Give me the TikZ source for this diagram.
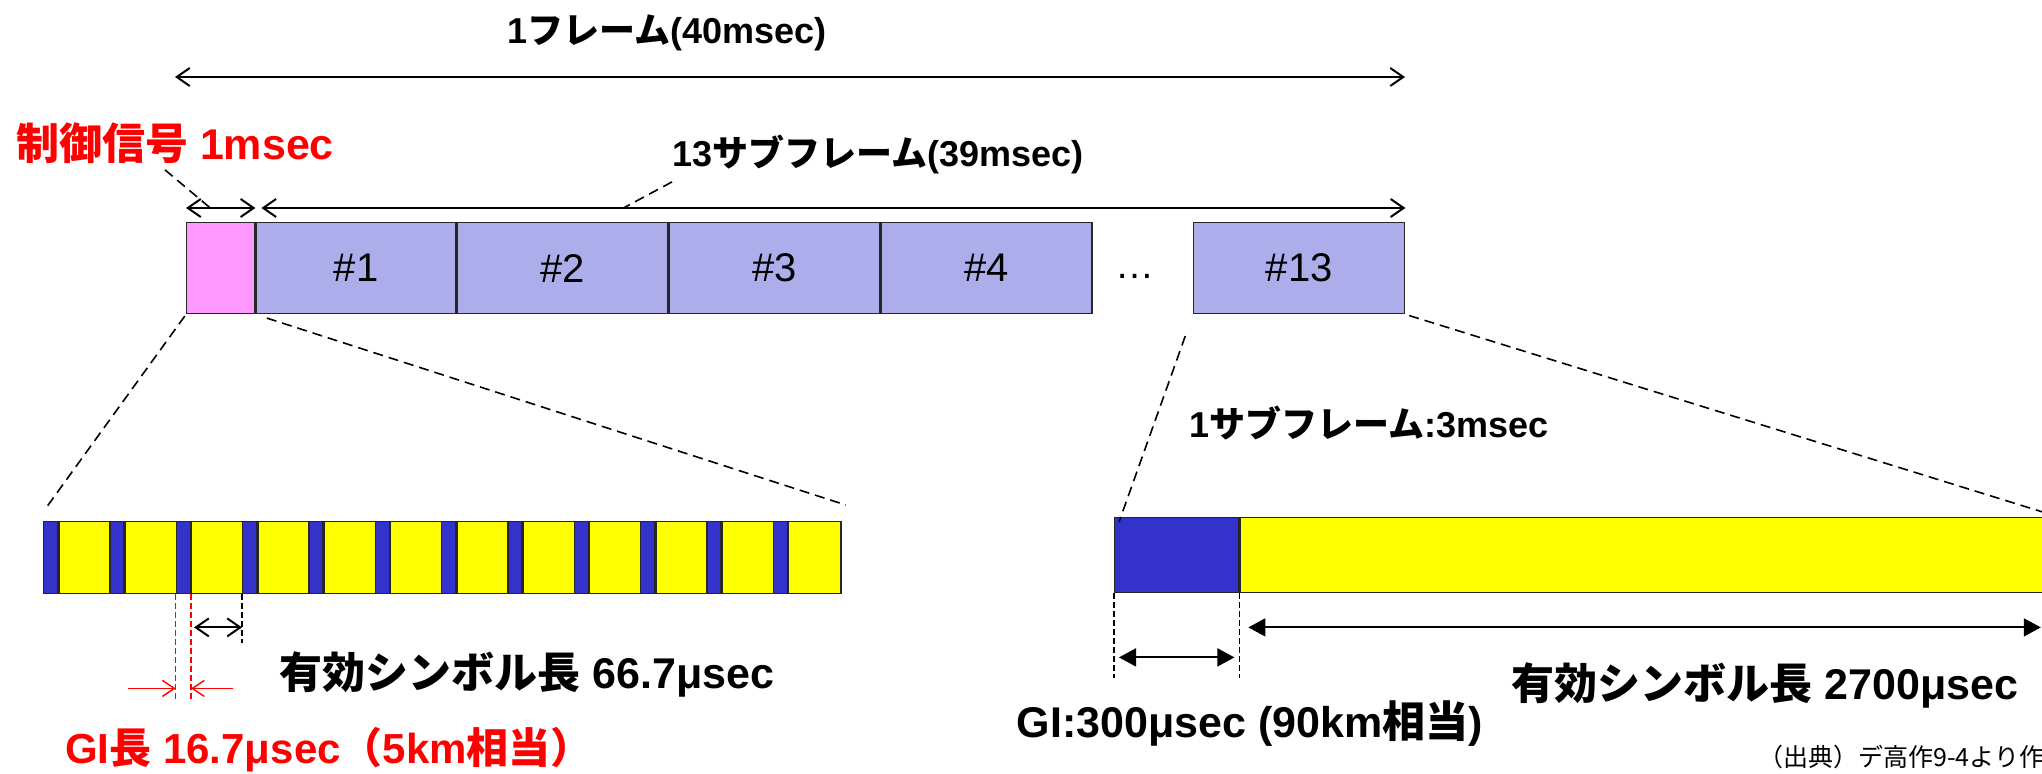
\documentclass[tikz,border=0pt]{standalone}
\usepackage{fontspec}
\setmainfont{Liberation Sans}
\newfontfamily\jp{Noto Sans CJK JP}
\usetikzlibrary{arrows.meta,positioning}
\definecolor{ctrlpink}{HTML}{FF99FF}
\definecolor{subviolet}{HTML}{ADADEB}
\definecolor{giblue}{HTML}{3333CC}
\definecolor{symyellow}{HTML}{FFFF00}
\definecolor{alertred}{HTML}{FF0000}

\begin{document}
\begin{tikzpicture}[x=0.5pt, y=-0.5pt,
  cell/.style={draw=black!85, line width=0.7pt, inner sep=0pt, anchor=north west},
  subbox/.style={cell, fill=subviolet, minimum height=45.5pt, font=\fontsize{20}{21}\selectfont},
  gibox/.style={cell, fill=giblue},
  symbox/.style={cell, fill=symyellow},
  biglabel/.style={inner sep=0pt, font=\bfseries\fontsize{21.5}{24}\selectfont},
  midlabel/.style={inner sep=0pt, font=\bfseries\fontsize{18}{20}\selectfont},
  barbarrow/.style={{Straight Barb[length=6.5pt,width=9pt]}-{Straight Barb[length=6.5pt,width=9pt]}, line width=1pt},
  trianglearrow/.style={{Triangle[length=8.5pt,width=9pt]}-{Triangle[length=8.5pt,width=9pt]}, line width=0.9pt},
  leader/.style={dash pattern=on 5pt off 3pt, line width=0.8pt},
  guide/.style={dash pattern=on 3pt off 1.5pt, line width=0.6pt},
  redarrow/.style={-{Straight Barb[length=6pt,width=8pt]}, alertred, line width=0.7pt}]
\useasboundingbox (0,0) rectangle (2042,774);
\clip (0,0) rectangle (2042,774);

% one frame: control signal and 13 subframes
\node[cell, fill=ctrlpink, minimum width=34pt, minimum height=45.5pt] (ctrl) at (186,222) {};
\node[subbox, minimum width=100pt, right=0pt of ctrl] (s1) {\#1};
\node[subbox, minimum width=105.25pt, right=0pt of s1] (s2) {\#2};
\node[subbox, minimum width=105.25pt, right=0pt of s2] (s3) {\#3};
\node[subbox, minimum width=105.25pt, right=0pt of s3] (s4) {\#4};
\node[inner sep=0pt, font=\fontsize{19.5}{20}\selectfont] (dots) at (1135,276) {…};
\node[subbox, minimum width=105.5pt] (s13) at (1193,222) {\#13};

\coordinate (frameL) at (175,77);
\coordinate (frameR) at (1405,77);
\draw[barbarrow] (frameL) -- (frameR);
\node[midlabel] (framelabel) at (667,33) {1{\jp フレーム}(40msec)};

\draw[barbarrow] ([yshift=7pt]ctrl.north west) -- ([yshift=7pt]ctrl.north east) coordinate[pos=0.35] (ctrlmid);
\draw[barbarrow, shorten <=3pt] ([yshift=7pt]s1.north west) -- ([yshift=7pt]s13.north east) coordinate[pos=0.32] (submid);
\node[biglabel, text=alertred] (ctrllabel) at (175,143) {{\jp 制御信号} 1msec};
\draw[leader] ([xshift=-5pt, yshift=-3pt]ctrllabel.south) -- (ctrlmid);
\node[midlabel] (sublabel) at (878,154) {13{\jp サブフレーム}(39msec)};
\draw[leader] ([yshift=-4pt]sublabel.south west) -- (submid);

% symbols with guard intervals (control signal)
\foreach \i in {1,...,12} {
  \node[gibox, minimum width=7pt, minimum height=36pt] (gi\i) at ({43+(\i-1)*66.33},521) {};
  \node[symbox, minimum width=26.17pt, minimum height=36pt, right=0pt of gi\i] (sym\i) {};
}
\draw[leader, shorten <=1pt] (ctrl.south west) -- ([xshift=1.5pt, yshift=6.5pt]gi1.north west);
\draw[leader, shorten <=6pt] (ctrl.south east) -- ([xshift=2pt, yshift=8pt]sym12.north east);

\draw[guide, alertred] (gi3.south west) -- ++(0,106) coordinate (giW);
\draw[guide, alertred] (gi3.south east) -- ++(0,106) coordinate (giE);
\draw[guide] (gi4.south west) -- ++(0,49) coordinate (symE);
\draw[barbarrow, shorten <=1.5pt] ([yshift=-16.5pt]gi3.south east) -- ([yshift=-16.5pt]gi4.south west);
\draw[redarrow] ([xshift=-24pt, yshift=-47pt]gi3.south west) -- ([yshift=-47pt]gi3.south west);
\draw[redarrow] ([xshift=21pt, yshift=-47pt]gi3.south east) -- ([yshift=-47pt]gi3.south east);
\node[biglabel] (symlabel) at (527,674) {{\jp 有効シンボル長} 66.7μsec};
\node[biglabel, text=alertred, font=\bfseries\fontsize{21}{24}\selectfont] (gilabel) at (329,750) {GI{\jp 長} 16.7μsec{\jp （}5km{\jp 相当）}};

% one subframe
\node[gibox, minimum width=62pt, minimum height=37.5pt] (rgi) at (1114,517) {};
\node[symbox, minimum width=409pt, minimum height=37.5pt, right=0pt of rgi] (rsym) {};
\draw[leader, shorten <=11.5pt] (s13.south west) -- ([xshift=2.5pt, yshift=-2.5pt]rgi.north west);
\draw[leader, shorten <=2pt] (s13.south east) -- (rsym.north east);
\node[midlabel] (onesublabel) at (1369,423) {1{\jp サブフレーム}:3msec};

\draw[guide] (rgi.south west) -- ++(0,85) coordinate (rgiW);
\draw[guide] (rgi.south east) -- ++(0,85) coordinate (rgiE);
\draw[trianglearrow, shorten <=2.5pt, shorten >=2.5pt] ([yshift=-32pt]rgi.south west) -- ([yshift=-32pt]rgi.south east);
\draw[trianglearrow, shorten <=4.5pt, shorten >=9pt] ([yshift=-17pt]rsym.south west) -- ([yshift=-17pt]rsym.south east);
\node[biglabel] (rsymlabel) at (1765,685) {{\jp 有効シンボル長} 2700μsec};
\node[biglabel] (rgilabel) at (1250,724) {GI:300μsec (90km{\jp 相当})};
\node[inner sep=0pt, anchor=west, font=\jp\fontsize{12.5}{14}\selectfont] (source) at (1758,757) {（出典）デ高作9-4より作};
\end{tikzpicture}
\end{document}
